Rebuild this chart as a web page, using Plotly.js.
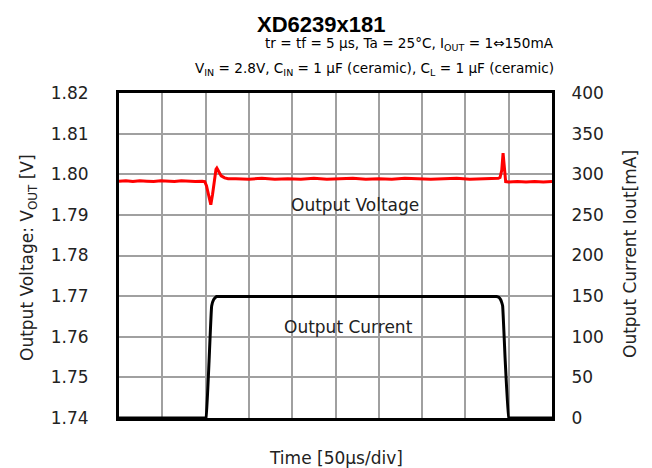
<!DOCTYPE html>
<html>
<head>
<meta charset="utf-8">
<script src="https://cdn.plot.ly/plotly-3.0.1.min.js"></script>
<style>html,body{margin:0;padding:0;background:#fff;}#chart{width:652px;height:468px;}</style>
</head>
<body>
<div id="chart"></div>
<script>
// ---- data ----
const chartTitle = "XD6239x181";
const subtitle1 = "tr = tf = 5 \u03bcs, Ta = 25\u00b0C, I<sub>OUT</sub> = 1\u21d4150mA";
const subtitle2 = "V<sub>IN</sub> = 2.8V, C<sub>IN</sub> = 1 \u03bcF (ceramic), C<sub>L</sub> = 1 \u03bcF (ceramic)";

// time in microseconds (10 div x 50 us)
const voltTime = [0, 8, 16, 24, 32, 40, 48, 56, 64, 72, 80, 88, 96, 99, 101, 103, 105, 106, 108, 110, 112, 113, 115, 118, 122, 126,
  135, 150, 165, 180, 195, 210, 225, 240, 255, 270, 285, 300, 315, 330, 345, 360, 375, 390, 405, 420, 432, 438, 440, 442, 443.5, 445, 446.5,
  450, 460, 470, 480, 490, 500];
const voltValue = [1.7983, 1.7984, 1.7982, 1.7984, 1.7983, 1.7982, 1.7984, 1.7983, 1.7982, 1.7984, 1.7983, 1.7982, 1.7983, 1.7982, 1.7972, 1.7952, 1.7928, 1.7925, 1.7950, 1.7985, 1.8012, 1.8015, 1.8006, 1.7996, 1.7991, 1.7989,
  1.7989, 1.7988, 1.7990, 1.7988, 1.7989, 1.7988, 1.7990, 1.7988, 1.7989, 1.7990, 1.7988, 1.7989, 1.7988, 1.7990, 1.7989, 1.7988, 1.7989, 1.7990, 1.7988, 1.7989, 1.7988, 1.7990, 1.7992, 1.8010, 1.8052, 1.8020, 1.7982,
  1.7981, 1.7982, 1.7981, 1.7982, 1.7981, 1.7982];

const currTime = [0, 100, 100.6, 104, 107, 109, 111, 113, 120, 200, 300, 400, 436, 438.5, 440.5, 442, 443, 446, 450, 451, 500];
const currValue = [0, 0, 0, 70, 138, 145, 148, 149.5, 149.5, 149.5, 149.5, 149.5, 149.5, 148.5, 146, 142, 138, 70, 0, 0, 0];

const leftTicks = [1.74, 1.75, 1.76, 1.77, 1.78, 1.79, 1.80, 1.81, 1.82];
const rightTicks = [0, 50, 100, 150, 200, 250, 300, 350, 400];

// ---- layout helpers (pixel -> paper) ----
const L = 119, R = 552, T = 93, B = 418;
const px = x => (x - L) / (R - L);
const py = y => (B - y) / (B - T);

const font = "DejaVu Sans, Arial, sans-serif";

const traces = [
  {x: voltTime, y: voltValue, type: 'scatter', mode: 'lines', line: {color: '#ff0000', width: 3}, yaxis: 'y', hoverinfo: 'skip'},
  {x: currTime, y: currValue, type: 'scatter', mode: 'lines', line: {color: '#000000', width: 3, shape: 'spline', smoothing: 0.3}, yaxis: 'y2', hoverinfo: 'skip'}
];

const layout = {
  width: 652, height: 468,
  margin: {l: L, r: 652 - R, t: T, b: 468 - B, pad: 0},
  paper_bgcolor: '#ffffff', plot_bgcolor: '#ffffff',
  showlegend: false,
  font: {family: font, size: 17, color: '#222'},
  xaxis: {
    range: [0, 500], dtick: 50, tick0: 0, showticklabels: false, ticks: '',
    showgrid: true, gridcolor: '#a0a0a0', gridwidth: 2,
    showline: true, linecolor: '#000', linewidth: 3, mirror: true, zeroline: false
  },
  yaxis: {
    range: [1.74, 1.82], tickvals: leftTicks, ticktext: leftTicks.map(v => v.toFixed(2)),
    ticks: 'outside', ticklen: 24, tickcolor: 'rgba(0,0,0,0)',
    showgrid: true, gridcolor: '#a0a0a0', gridwidth: 2,
    showline: true, linecolor: '#000', linewidth: 3, mirror: true, zeroline: false,
    tickfont: {family: font, size: 17, color: '#222'}
  },
  yaxis2: {
    range: [0, 400], tickvals: rightTicks, ticktext: rightTicks.map(String),
    overlaying: 'y', side: 'right', showgrid: false, zeroline: false,
    ticks: 'outside', ticklen: 15, tickcolor: 'rgba(0,0,0,0)',
    tickfont: {family: font, size: 17, color: '#222'}
  },
  annotations: [
    {text: chartTitle, xref: 'paper', yref: 'paper', x: px(321), y: py(24), showarrow: false, xanchor: 'center', yanchor: 'middle',
     font: {family: "Liberation Sans, Arial, sans-serif", size: 22, color: '#000', weight: 600}},
    {text: subtitle1, xref: 'paper', yref: 'paper', x: px(556), y: py(44), showarrow: false, xanchor: 'right', yanchor: 'middle',
     font: {family: font, size: 13.6, color: '#000'}},
    {text: subtitle2, xref: 'paper', yref: 'paper', x: px(556), y: py(69), showarrow: false, xanchor: 'right', yanchor: 'middle',
     font: {family: font, size: 13.6, color: '#000'}},
    {text: "Output Voltage: V<sub>OUT</sub> [V]", xref: 'paper', yref: 'paper', x: px(28), y: py(258), showarrow: false, textangle: -90,
     xanchor: 'center', yanchor: 'middle', font: {family: font, size: 17, color: '#222'}},
    {text: "Output Current Iout[mA]", xref: 'paper', yref: 'paper', x: px(630), y: py(254), showarrow: false, textangle: -90,
     xanchor: 'center', yanchor: 'middle', font: {family: font, size: 17, color: '#222'}},
    {text: "Time [50\u03bcs/div]", xref: 'paper', yref: 'paper', x: px(336), y: py(458), showarrow: false,
     xanchor: 'center', yanchor: 'middle', font: {family: font, size: 17, color: '#222'}},
    {text: "Output Voltage", xref: 'paper', yref: 'paper', x: px(355), y: py(205), showarrow: false,
     xanchor: 'center', yanchor: 'middle', font: {family: font, size: 17, color: '#222'}},
    {text: "Output Current", xref: 'paper', yref: 'paper', x: px(348), y: py(327), showarrow: false,
     xanchor: 'center', yanchor: 'middle', font: {family: font, size: 17, color: '#222'}}
  ]
};

Plotly.newPlot('chart', traces, layout, {staticPlot: true, displayModeBar: false});
</script>
</body>
</html>
